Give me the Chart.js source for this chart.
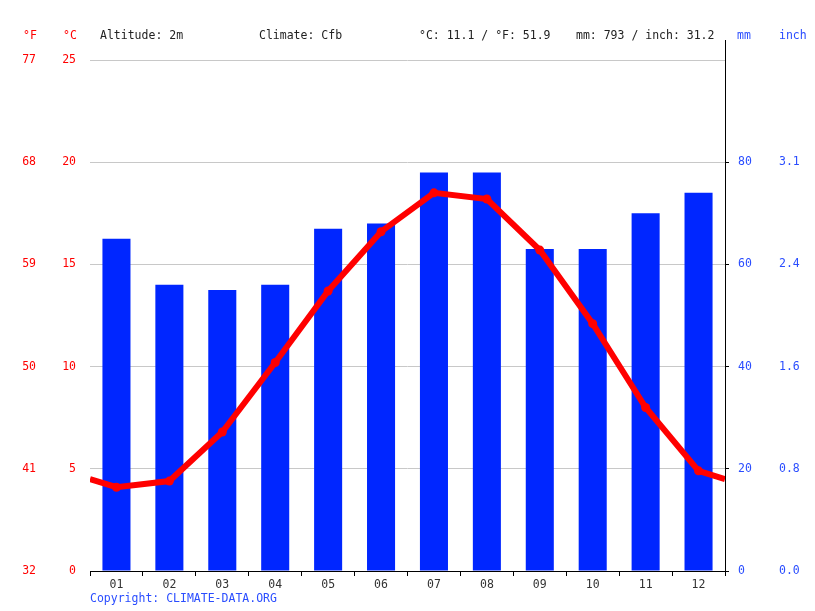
<!DOCTYPE html>
<html>
<head>
<meta charset="utf-8">
<script src="https://cdn.jsdelivr.net/npm/chart.js@4"></script>
<style>
  body { margin: 0; background: #fff; }
  canvas { display: block; }
</style>
</head>
<body>
<canvas id="grafico" width="815" height="611"></canvas>
<script>
// datos
const meses = ['01', '02', '03', '04', '05', '06', '07', '08', '09', '10', '11', '12'];
const lluviaMm = [65, 56, 55, 56, 67, 68, 78, 78, 63, 63, 70, 74];
const tempC = [4.1, 4.4, 6.8, 10.2, 13.7, 16.6, 18.5, 18.2, 15.7, 12.1, 8.0, 4.9];
const tempBorde = 4.5; // valor donde la linea toca los bordes
const cabecera = ['Altitude: 2m', 'Climate: Cfb', '°C: 11.1 / °F: 51.9', 'mm: 793 / inch: 31.2'];

const fuente = "'DejaVu Sans Mono', monospace";
const rojo = '#ff0000';
const azul = '#0026ff';
const azulTexto = '#2a4dff';

// puntos de la linea: borde, meses, borde
const puntosLinea = [{ x: 0, y: tempBorde }]
  .concat(tempC.map((t, i) => ({ x: i + 0.5, y: t })))
  .concat([{ x: 12, y: tempBorde }]);

const textos = {
  id: 'textos',
  afterDraw(chart) {
    const ctx = chart.ctx;
    const area = chart.chartArea;
    ctx.save();
    ctx.font = '11.5px ' + fuente;
    ctx.textBaseline = 'middle';
    ctx.textAlign = 'center';
    ctx.fillStyle = rojo;
    ctx.fillText('°F', 30, 36);
    ctx.fillText('°C', 70, 36);
    ctx.fillStyle = azulTexto;
    ctx.textAlign = 'left';
    ctx.fillText('mm', 737, 36);
    ctx.fillText('inch', 779, 36);
    ctx.fillStyle = '#222';
    const xs = [100, 259, 419, 576];
    cabecera.forEach((t, i) => ctx.fillText(t, xs[i], 36));
    ctx.fillStyle = azulTexto;
    ctx.fillText('Copyright: CLIMATE-DATA.ORG', 90, 599);
    // eje derecho se alarga hacia arriba
    ctx.strokeStyle = '#000';
    ctx.lineWidth = 1;
    ctx.beginPath();
    ctx.moveTo(area.right + 0.5, 40);
    ctx.lineTo(area.right + 0.5, area.top);
    ctx.stroke();
    ctx.restore();
  }
};

const fijarAncho = (w) => (scale) => { scale.width = w; };

new Chart(document.getElementById('grafico'), {
  data: {
    labels: meses,
    datasets: [
      {
        type: 'line',
        data: puntosLinea,
        xAxisID: 'xl',
        yAxisID: 'y',
        borderColor: rojo,
        backgroundColor: rojo,
        borderWidth: 6,
        tension: 0,
        pointRadius: (c) => (c.dataIndex === 0 || c.dataIndex === puntosLinea.length - 1) ? 0 : 4.5,
        pointBorderWidth: 0,
        order: 0
      },
      {
        type: 'bar',
        data: lluviaMm,
        xAxisID: 'x',
        yAxisID: 'ymm',
        backgroundColor: azul,
        grouped: false,
        barPercentage: 0.53,
        categoryPercentage: 1,
        order: 1
      }
    ]
  },
  options: {
    responsive: false,
    animation: false,
    devicePixelRatio: 1,
    layout: { padding: { top: 60, left: 0, right: 0, bottom: 0 } },
    plugins: { legend: { display: false }, tooltip: { enabled: false } },
    scales: {
      x: {
        type: 'category',
        position: 'bottom',
        afterFit: (s) => { s.height = 40; },
        grid: { offset: true, drawOnChartArea: false, drawTicks: true, tickLength: 5, color: '#000' },
        border: { display: true, color: '#000' },
        ticks: { color: '#333', padding: 2, font: { family: fuente, size: 11.5 } }
      },
      xl: { type: 'linear', display: false, min: 0, max: 12 },
      y: {
        type: 'linear',
        position: 'left',
        min: 0, max: 25,
        afterFit: fijarAncho(40),
        grid: { color: '#c8c8c8', drawTicks: false },
        border: { display: false },
        ticks: { stepSize: 5, color: rojo, padding: 14, font: { family: fuente, size: 11.5 } }
      },
      yF: {
        type: 'linear',
        position: 'left',
        min: 0, max: 25,
        afterFit: fijarAncho(50),
        grid: { display: false, drawTicks: false },
        border: { display: false },
        ticks: {
          stepSize: 5, color: rojo, padding: 14, font: { family: fuente, size: 11.5 },
          callback: (v) => Math.round(v * 9 / 5 + 32)
        }
      },
      ymm: {
        type: 'linear',
        position: 'right',
        min: 0, max: 100,
        afterFit: fijarAncho(40),
        grid: {
          drawOnChartArea: false, drawTicks: true, tickLength: 4,
          color: (c) => c.tick && c.tick.value === 100 ? 'rgba(0,0,0,0)' : '#000'
        },
        border: { display: true, color: '#000' },
        ticks: {
          stepSize: 20, color: azulTexto, padding: 9, font: { family: fuente, size: 11.5 },
          callback: (v) => v === 100 ? '' : v
        }
      },
      yin: {
        type: 'linear',
        position: 'right',
        min: 0, max: 100,
        afterFit: fijarAncho(50),
        grid: { display: false, drawTicks: false },
        border: { display: false },
        ticks: {
          stepSize: 20, color: azulTexto, padding: 14, font: { family: fuente, size: 11.5 },
          callback: (v) => v === 100 ? '' : (v / 25.4).toFixed(1)
        }
      }
    }
  },
  plugins: [textos]
});
</script>
</body>
</html>
